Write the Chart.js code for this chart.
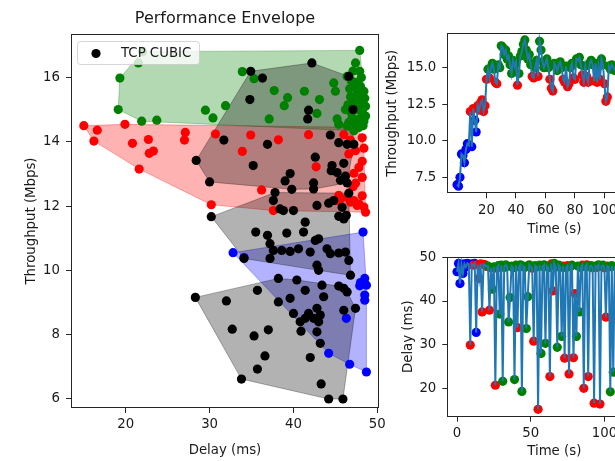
<!DOCTYPE html>
<html>
<head>
<meta charset="utf-8">
<script src="https://cdn.jsdelivr.net/npm/chart.js@4.4.1/dist/chart.umd.min.js"></script>
<style>
  html, body { margin:0; padding:0; background:#ffffff; width:615px; height:461px; overflow:hidden; position:relative; }
  canvas { position:absolute; display:block; }
</style>
</head>
<body>
<canvas id="envelope" width="390" height="461" style="left:0;top:0;"></canvas>
<canvas id="thrTime" width="296" height="240" style="left:375px;top:0;"></canvas>
<canvas id="delayTime" width="296" height="221" style="left:375px;top:240px;"></canvas>
<script>
// ---------- texts ----------
const chartTitle = 'Performance Envelope';
const cubicLabel = 'TCP CUBIC';
const delayLabel = 'Delay (ms)';
const thrLabel = 'Throughput (Mbps)';
const timeLabel = 'Time (s)';

// ---------- tick labels ----------
const envDelayTicks = [20, 30, 40, 50];
const envThrTicks = [6, 8, 10, 12, 14, 16];
const thrTimeTicks = [20, 40, 60, 80, 100, 120];
const thrTicks = [7.5, 10, 12.5, 15];
const delayTimeTicks = [0, 50, 100];
const delayTicks = [20, 30, 40, 50];

// ---------- envelope scatter: our flow, by cluster ----------
const greenDelay = [22.0,21.5,19.3,19.1,21.9,23.7,29.5,30.4,31.9,33.9,35.3,37.7,39.3,38.9,41.3,43.1,42.8,37.1,44.8,45.0,45.2,45.4,
  47.9,47.4,47.9,46.4,47.1,48.1,46.9,47.5,47.3,48.0,46.7,48.4,47.6,47.9,46.8,48.5,47.2,48.0,46.5,48.6,47.5,46.2,48.2,46.9,48.2,48.6,47.0,47.8,48.4,46.6,47.4,48.3,46.4,47.8,47.2];
const greenThr = [16.80,16.45,15.98,15.00,14.64,14.67,14.98,14.74,15.12,16.18,15.96,15.59,15.37,15.12,15.57,15.31,14.88,14.71,15.83,15.57,14.71,14.54,
  16.84,16.45,16.19,16.03,16.20,16.00,15.90,15.85,15.75,15.72,15.65,15.57,15.50,15.45,15.40,15.35,15.25,15.20,15.15,15.10,15.00,15.00,14.95,14.90,14.85,14.80,14.75,14.70,14.64,14.60,14.55,14.50,14.49,14.44,14.34];

const redDelay = [15.0,16.6,16.2,19.9,20.8,22.7,22.8,23.3,21.6,27.1,27.0,30.7,30.2,33.9,34.9,36.2,37.6,38.2,41.8,42.7,
  47.5,46.0,46.8,48.2,48.4,46.6,47.4,48.2,47.8,47.2,48.2,47.4,47.1,45.4,45.6,46.8,48.2,47.8,48.6,48.4,45.2,46.4,47.2,47.6];
const redThr = [14.50,14.36,14.02,14.54,13.95,14.07,13.64,13.71,13.15,14.29,14.05,14.24,12.04,13.70,14.21,12.50,11.86,14.06,14.22,13.22,
  14.45,14.22,14.05,14.12,13.80,13.62,13.72,13.39,13.20,13.02,12.89,12.71,12.60,12.33,12.22,12.12,12.32,12.07,11.81,11.97,12.17,12.27,12.17,12.02];

const blueDelay = [48.3,32.8,34.1,48.5,47.9,48.7,48.5,48.5,46.3,44.2,46.7,48.7,48.0];
const blueThr = [11.19,10.55,10.40,9.75,9.52,9.54,9.23,9.07,8.51,7.42,7.08,6.84,9.62];

// ---------- envelope scatter: TCP CUBIC, by cluster ----------
const cubic1Delay = [42.2,34.9,36.3,34.8,41.8,41.7,46.6,44.4,31.7,28.4,36.9,35.2,30.0,39.6,39.0,39.8,42.6,42.4,44.6,45.2,46.0,46.2,46.4,46.4,47.2,45.4,42.4,47.1,44.5,45.6];
const cubic1Thr = [16.45,16.19,15.98,15.31,14.98,14.71,16.03,14.21,14.05,13.42,13.92,13.26,12.75,13.01,12.78,12.52,13.52,12.72,13.26,13.04,13.33,12.93,12.72,13.92,13.92,13.97,12.53,15.00,13.10,12.80];

const cubic2Delay = [30.2,37.8,37.6,38.4,38.8,40.0,42.8,44.2,44.8,45.8,46.3,45.4,41.4,35.5,36.9,39.2,41.2,37.2,37.6,38.6,39.6,40.6,42.0,42.6,43.0,44.0,44.4,45.4,46.2,46.6,34.1,37.2,42.8,43.0,46.8,46.6,46.0];
const cubic2Thr = [11.67,12.42,12.17,11.91,11.86,11.86,12.02,12.09,12.17,11.96,11.71,11.68,11.50,11.19,11.09,11.16,11.19,10.83,10.62,10.62,10.59,10.67,10.57,10.93,10.98,10.67,10.52,10.54,10.57,10.31,10.37,10.37,10.16,10.00,9.85,12.40,11.60];

const cubic3Delay = [28.3,32.0,35.7,38.2,38.2,39.6,40.0,41.8,41.4,42.4,43.2,42.8,43.6,45.4,46.0,46.0,47.4,40.8,43.0,40.9,42.8,43.2,32.7,37.0,35.3,36.6,42.0,35.7,33.8,43.3,44.2,45.9,41.4,43.4,40.4,46.4];
const cubic3Thr = [9.16,9.05,9.38,9.75,9.02,9.13,8.66,8.66,8.51,8.51,8.61,8.82,9.18,9.51,9.44,8.76,8.82,8.40,8.40,8.11,8.09,7.73,8.17,8.15,7.96,7.34,7.29,6.93,6.62,6.47,6.00,6.00,9.38,9.54,9.70,9.33];

// ---------- time series ----------
const timeSec = [0,1,2,3,4,5,6,7,8,9,10,11,12,13,14,15,16,17,18,19,20,21,22,23,24,25,26,27,28,29,
  30,31,32,33,34,35,36,37,38,39,40,41,42,43,44,45,46,47,48,49,50,51,52,53,54,55,56,57,58,59,
  60,61,62,63,64,65,66,67,68,69,70,71,72,73,74,75,76,77,78,79,80,81,82,83,84,85,86,87,88,89,
  90,91,92,93,94,95,96,97,98,99,100,101,102,103,104,105,106,107];
const thrSeries = [7.0,6.9,7.5,9.1,9.0,8.5,9.4,9.8,9.7,12.0,
  9.6,12.2,11.4,10.6,12.4,12.1,12.6,12.8,12.0,12.4,
  14.2,14.9,14.3,15.0,15.3,14.9,14.0,13.9,15.2,15.0,
  16.5,16.4,15.9,16.2,15.6,15.8,15.2,14.6,15.5,15.1,
  15.4,13.8,14.6,15.8,16.1,16.6,16.9,16.2,15.6,15.9,
  15.2,14.4,14.3,15.0,15.5,14.4,16.8,16.2,15.4,15.0,
  15.3,15.6,15.0,14.2,13.6,13.4,15.3,15.1,14.8,15.2,
  15.4,15.0,14.2,14.0,15.1,13.7,13.9,15.0,15.3,14.3,
  14.2,15.6,15.5,15.7,15.2,14.5,14.0,15.1,14.4,14.0,
  15.3,15.5,15.2,14.1,15.3,14.0,15.1,14.2,15.6,15.2,
  13.9,12.7,13.0,15.1,14.9,15.2,15.0,14.8];
const delaySeries = [46.7,48.6,44.0,48.4,46.3,48.5,47.8,48.6,48.3,29.9,
  48.5,48.2,48.6,32.8,48.3,45.2,48.5,37.5,48.4,48.3,
  47.9,48.0,37.9,47.6,42.7,47.8,20.7,47.5,48.1,37.0,
  48.2,21.6,47.7,48.3,47.9,35.2,40.8,48.0,47.6,22.0,
  48.2,33.9,47.8,48.3,19.3,48.0,47.7,33.7,41.0,48.3,
  47.9,47.5,30.8,48.1,47.8,15.2,48.2,28.0,47.9,48.3,
  30.3,48.0,47.6,22.7,48.5,42.3,48.6,47.8,29.4,48.2,
  47.7,31.9,48.0,26.9,47.6,48.1,23.3,47.9,48.2,27.0,
  41.7,31.9,48.0,37.5,47.7,48.2,20.0,47.9,48.3,22.7,
  47.8,48.1,47.6,16.6,48.0,47.7,48.3,16.4,47.9,48.2,
  47.6,36.3,48.0,47.8,19.2,48.1,23.7,47.9];
const classSeries = ['b','b','b','b','b','b','b','b','b','r',
  'b','r','b','b','r','r','r','r','r','r',
  'r','g','r','g','g','g','r','r','g','g',
  'g','g','g','g','g','g','g','g','g','g',
  'g','r','g','g','g','g','g','g','g','g',
  'g','r','r','g','g','r','g','g','g','g',
  'g','g','g','r','r','r','g','g','g','g',
  'g','g','r','r','g','r','r','g','g','r',
  'r','g','g','g','g','r','r','g','r','r',
  'g','g','g','r','g','r','g','r','g','g',
  'r','r','r','g','g','g','g','g'];

// ---------- styling ----------
const FONT = 'DejaVu Sans';
const TXT = '#1a1a1a';
const AX = '#262626';
const COL = { g: '#008000', r: '#ff0000', b: '#0000ff', k: '#000000' };
const FILL = { g: 'rgba(0,128,0,0.3)', r: 'rgba(255,0,0,0.3)', b: 'rgba(0,0,255,0.3)', k: 'rgba(0,0,0,0.3)' };
const LINE_C = '#1f77b4';
const PR = 4.6;
const FS = 13.3;
Chart.defaults.font.family = FONT;

function pts(xs, ys) { return xs.map((x, i) => ({ x: x, y: ys[i] })); }

function convexHull(xs, ys) {
  const p = xs.map((x, i) => [x, ys[i]]).sort((a, b) => a[0] - b[0] || a[1] - b[1]);
  const cross = (o, a, b) => (a[0] - o[0]) * (b[1] - o[1]) - (a[1] - o[1]) * (b[0] - o[0]);
  const lo = [], up = [];
  for (const q of p) { while (lo.length >= 2 && cross(lo[lo.length - 2], lo[lo.length - 1], q) <= 0) lo.pop(); lo.push(q); }
  for (let i = p.length - 1; i >= 0; i--) { const q = p[i]; while (up.length >= 2 && cross(up[up.length - 2], up[up.length - 1], q) <= 0) up.pop(); up.push(q); }
  lo.pop(); up.pop();
  const h = lo.concat(up); h.push(h[0]);
  return h.map(([x, y]) => ({ x: x, y: y }));
}

function hullSet(xs, ys, key, order) {
  return { data: convexHull(xs, ys), showLine: true, fill: 'shape', backgroundColor: FILL[key], borderColor: FILL[key],
    borderWidth: 1, pointRadius: 0, pointHoverRadius: 0, order: order };
}
function pointSet(label, data, color, order) {
  return { label: label, data: data, showLine: false, pointRadius: PR, pointHoverRadius: PR, pointBackgroundColor: color,
    pointBorderColor: color, pointBorderWidth: 0, backgroundColor: color, borderColor: color, order: order };
}

function axis(o) {
  return {
    type: 'linear', min: o.min, max: o.max,
    afterBuildTicks: s => { s.ticks = o.ticks.map(v => ({ value: v })); },
    afterFit: s => { if (o.horizontal) s.height = o.size; else s.width = o.size; },
    ticks: { font: { family: FONT, size: FS }, color: TXT, padding: o.tickPad, maxRotation: 0, autoSkip: false,
      callback: o.fmt || (v => String(v)) },
    grid: { drawOnChartArea: false, drawTicks: true, tickLength: 5, tickWidth: 1, tickColor: AX, color: AX },
    border: { display: false },
    title: { display: true, text: o.title, font: { family: FONT, size: FS }, color: TXT, padding: o.titlePad }
  };
}

const framePlugin = {
  id: 'frame',
  afterDatasetsDraw(chart) {
    const a = chart.chartArea, ctx = chart.ctx;
    const l = Math.round(a.left) + 0.5, t = Math.round(a.top) + 0.5, r = Math.round(a.right) - 0.5, b = Math.round(a.bottom) - 0.5;
    ctx.save(); ctx.strokeStyle = AX; ctx.lineWidth = 1; ctx.strokeRect(l, t, r - l, b - t); ctx.restore();
  }
};

const legendPlugin = {
  id: 'cubicLegend',
  afterDatasetsDraw(chart) {
    const a = chart.chartArea, ctx = chart.ctx;
    const x = Math.round(a.left) + 6.5, y = Math.round(a.top) + 7.5, w = 122, h = 23, r = 3;
    ctx.save();
    ctx.beginPath();
    if (ctx.roundRect) ctx.roundRect(x, y, w, h, r); else ctx.rect(x, y, w, h);
    ctx.fillStyle = 'rgba(255,255,255,0.8)'; ctx.fill();
    ctx.strokeStyle = 'rgba(204,204,204,0.8)'; ctx.lineWidth = 1; ctx.stroke();
    ctx.beginPath(); ctx.arc(x + 18.5, y + 12, PR, 0, Math.PI * 2); ctx.fillStyle = COL.k; ctx.fill();
    ctx.font = FS + 'px "' + FONT + '"'; ctx.fillStyle = TXT; ctx.textAlign = 'left'; ctx.textBaseline = 'middle';
    ctx.fillText(cubicLabel, x + 43.5, y + 12);
    ctx.restore();
  }
};

const common = { responsive: false, animation: false, events: [], devicePixelRatio: 1 };

// ---------- left: envelope ----------
const cubicDelay = cubic1Delay.concat(cubic2Delay, cubic3Delay);
const cubicThr = cubic1Thr.concat(cubic2Thr, cubic3Thr);
new Chart(document.getElementById('envelope'), {
  type: 'scatter',
  data: { datasets: [
    hullSet(greenDelay, greenThr, 'g', 9),
    hullSet(redDelay, redThr, 'r', 9),
    hullSet(blueDelay, blueThr, 'b', 9),
    hullSet(cubic1Delay, cubic1Thr, 'k', 8),
    hullSet(cubic2Delay, cubic2Thr, 'k', 8),
    hullSet(cubic3Delay, cubic3Thr, 'k', 8),
    pointSet('green', pts(greenDelay, greenThr), COL.g, 4),
    pointSet('red', pts(redDelay, redThr), COL.r, 4),
    pointSet('blue', pts(blueDelay, blueThr), COL.b, 4),
    pointSet(cubicLabel, pts(cubicDelay, cubicThr), COL.k, 1)
  ] },
  options: Object.assign({}, common, {
    layout: { autoPadding: false, padding: { left: 0, right: 11, top: 0, bottom: 0 } },
    plugins: {
      legend: { display: false }, tooltip: { enabled: false },
      title: { display: true, text: chartTitle, fullSize: false, color: TXT,
        font: { family: FONT, size: 16, weight: 'normal' }, padding: { top: 9, bottom: 5.8 } }
    },
    scales: {
      x: axis({ min: 13.47, max: 50.2, ticks: envDelayTicks, title: delayLabel, titlePad: { top: 0, bottom: 2 }, size: 53, horizontal: true, tickPad: 4 }),
      y: axis({ min: 5.72, max: 17.35, ticks: envThrTicks, title: thrLabel, titlePad: { top: 24, bottom: 0 }, size: 71, horizontal: false, tickPad: 6 })
    }
  }),
  plugins: [framePlugin, legendPlugin]
});

// ---------- right: time series ----------
function seriesDatasets(yVals) {
  const sets = [{ data: pts(timeSec, yVals), showLine: true, fill: false, borderColor: LINE_C, borderWidth: 2,
    pointRadius: 0, pointHoverRadius: 0, order: 0 }];
  [['g', 1], ['r', 2], ['b', 3]].forEach(([k, ord]) => {
    const d = [];
    timeSec.forEach((t, i) => { if (classSeries[i] === k) d.push({ x: t, y: yVals[i] }); });
    sets.push(pointSet(k, d, COL[k], ord));
  });
  return sets;
}

new Chart(document.getElementById('thrTime'), {
  type: 'scatter',
  data: { datasets: seriesDatasets(thrSeries) },
  options: Object.assign({}, common, {
    layout: { autoPadding: false, padding: { left: 0, right: 9.7, top: 33.3, bottom: 0 } },
    plugins: { legend: { display: false }, tooltip: { enabled: false } },
    scales: {
      x: axis({ min: -6.6, max: 138.6, ticks: thrTimeTicks, title: timeLabel, titlePad: { top: 0, bottom: 2.7 }, size: 46.7, horizontal: true, tickPad: 4 }),
      y: axis({ min: 6.41, max: 17.35, ticks: thrTicks, title: thrLabel, titlePad: { top: 10, bottom: 0 }, size: 72.3, horizontal: false, tickPad: 6, fmt: v => v.toFixed(1) })
    }
  }),
  plugins: [framePlugin]
});

new Chart(document.getElementById('delayTime'), {
  type: 'scatter',
  data: { datasets: seriesDatasets(delaySeries) },
  options: Object.assign({}, common, {
    layout: { autoPadding: false, padding: { left: 0, right: 9.7, top: 16.7, bottom: 0 } },
    plugins: { legend: { display: false }, tooltip: { enabled: false } },
    scales: {
      x: axis({ min: -6.6, max: 138.6, ticks: delayTimeTicks, title: timeLabel, titlePad: { top: 0, bottom: 1.3 }, size: 44.3, horizontal: true, tickPad: 4 }),
      y: axis({ min: 13.5, max: 50.15, ticks: delayTicks, title: delayLabel, titlePad: { top: 25.3, bottom: 0 }, size: 72.3, horizontal: false, tickPad: 6 })
    }
  }),
  plugins: [framePlugin]
});
</script>
</body>
</html>
